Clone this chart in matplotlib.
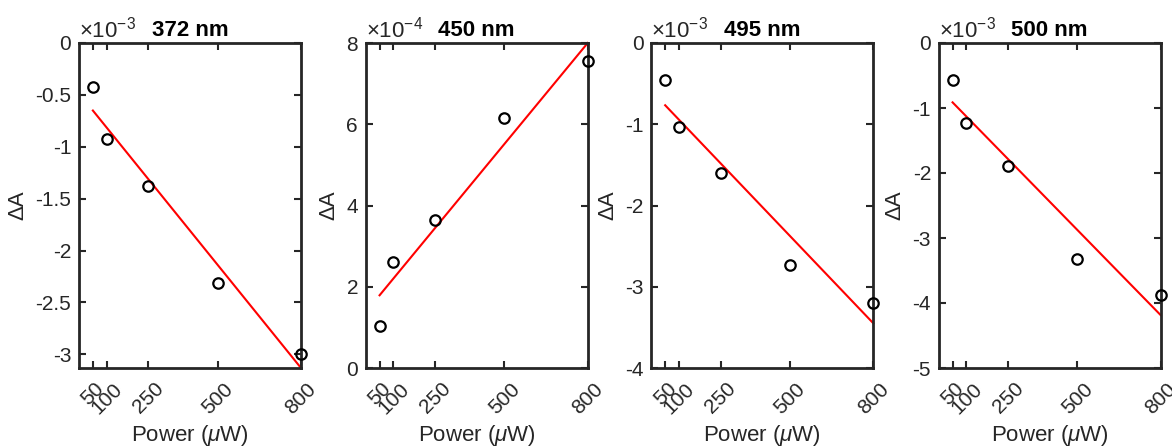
import numpy as np
import matplotlib
matplotlib.use('Agg')
import matplotlib.pyplot as plt
from matplotlib.ticker import FuncFormatter

plt.rcParams['font.family'] = ['Liberation Sans', 'DejaVu Sans']
plt.rcParams['mathtext.fontset'] = 'custom'
plt.rcParams['mathtext.rm'] = 'Liberation Sans'
plt.rcParams['mathtext.it'] = 'Liberation Sans:italic'

# pump power (uW) and delta A at each probe wavelength
power = np.array([50, 100, 250, 500, 800])
dA_372 = np.array([-0.424e-3, -0.93e-3, -1.38e-3, -2.318e-3, -3.0e-3])
dA_450 = np.array([1.03e-4, 2.6e-4, 3.64e-4, 6.15e-4, 7.55e-4])
dA_495 = np.array([-0.459e-3, -1.03e-3, -1.6e-3, -2.73e-3, -3.2e-3])
dA_500 = np.array([-0.563e-3, -1.23e-3, -1.895e-3, -3.325e-3, -3.883e-3])

titles = ['372 nm', '450 nm', '495 nm', '500 nm']
series = [dA_372, dA_450, dA_495, dA_500]
exponents = [-3, -4, -3, -3]
yticks = [np.arange(-3, 0.01, 0.5), np.arange(0, 8.1, 2),
          np.arange(-4, 0.1, 1), np.arange(-5, 0.1, 1)]
xticks = [50, 100, 250, 500, 800]

dark = '#262626'
W, H = 1172, 447
fig = plt.figure(figsize=(W / 100, H / 100), dpi=100)
lefts = [79, 365.7, 651.3, 938.7]

for i in range(4):
    ax = fig.add_axes([lefts[i] / W, (H - 368) / H, 222 / W, 325 / H])
    y = series[i]
    scale = 10.0 ** exponents[i]

    # least-squares line through the points
    k, b = np.polyfit(power, y, 1)
    xf = np.array([power[0], power[-1]])
    yf = k * xf + b

    ax.plot(xf, yf, color='red', lw=1.5, clip_on=False, zorder=2)
    ax.plot(power, y, 'o', mfc='none', mec='black', ms=7.5, mew=1.6,
            clip_on=False, zorder=3)

    ax.set_xlim(0, 800)
    lo, hi = yticks[i][0] * scale, yticks[i][-1] * scale
    # axis runs to the end of the fit line where it passes the last tick
    lo = min(lo, yf.min())
    hi = max(hi, yf.max())
    if i == 0:
        lo = yf.min()
    ax.set_ylim(lo, hi)
    ax.set_yticks(yticks[i] * scale)
    ax.yaxis.set_major_formatter(FuncFormatter(
        lambda v, pos, s=scale: '%g' % round(v / s, 6)))
    ax.set_xticks(xticks)
    ax.set_xticklabels([str(t) for t in xticks], rotation=45, ha='center',
                       va='top')

    for sp in ax.spines.values():
        sp.set_linewidth(2)
        sp.set_color(dark)
    ax.tick_params(direction='in', length=5, width=1.5, top=True, right=True,
                   labelsize=15, colors=dark, pad=5.5)
    ax.tick_params(axis='x', pad=8)

    ax.set_xlabel(r'Power ($\mu$W)', fontsize=16, color=dark, labelpad=4)
    ax.set_ylabel('\u0394A', fontsize=16, color=dark, labelpad=5)
    ax.set_title(titles[i], fontsize=16, fontweight='bold', pad=5)
    ax.text(0.0, 1.018, r'$\times10^{%d}$' % exponents[i], transform=ax.transAxes,
            fontsize=16, color=dark, ha='left', va='baseline')

fig.savefig('out.png', dpi=100)
